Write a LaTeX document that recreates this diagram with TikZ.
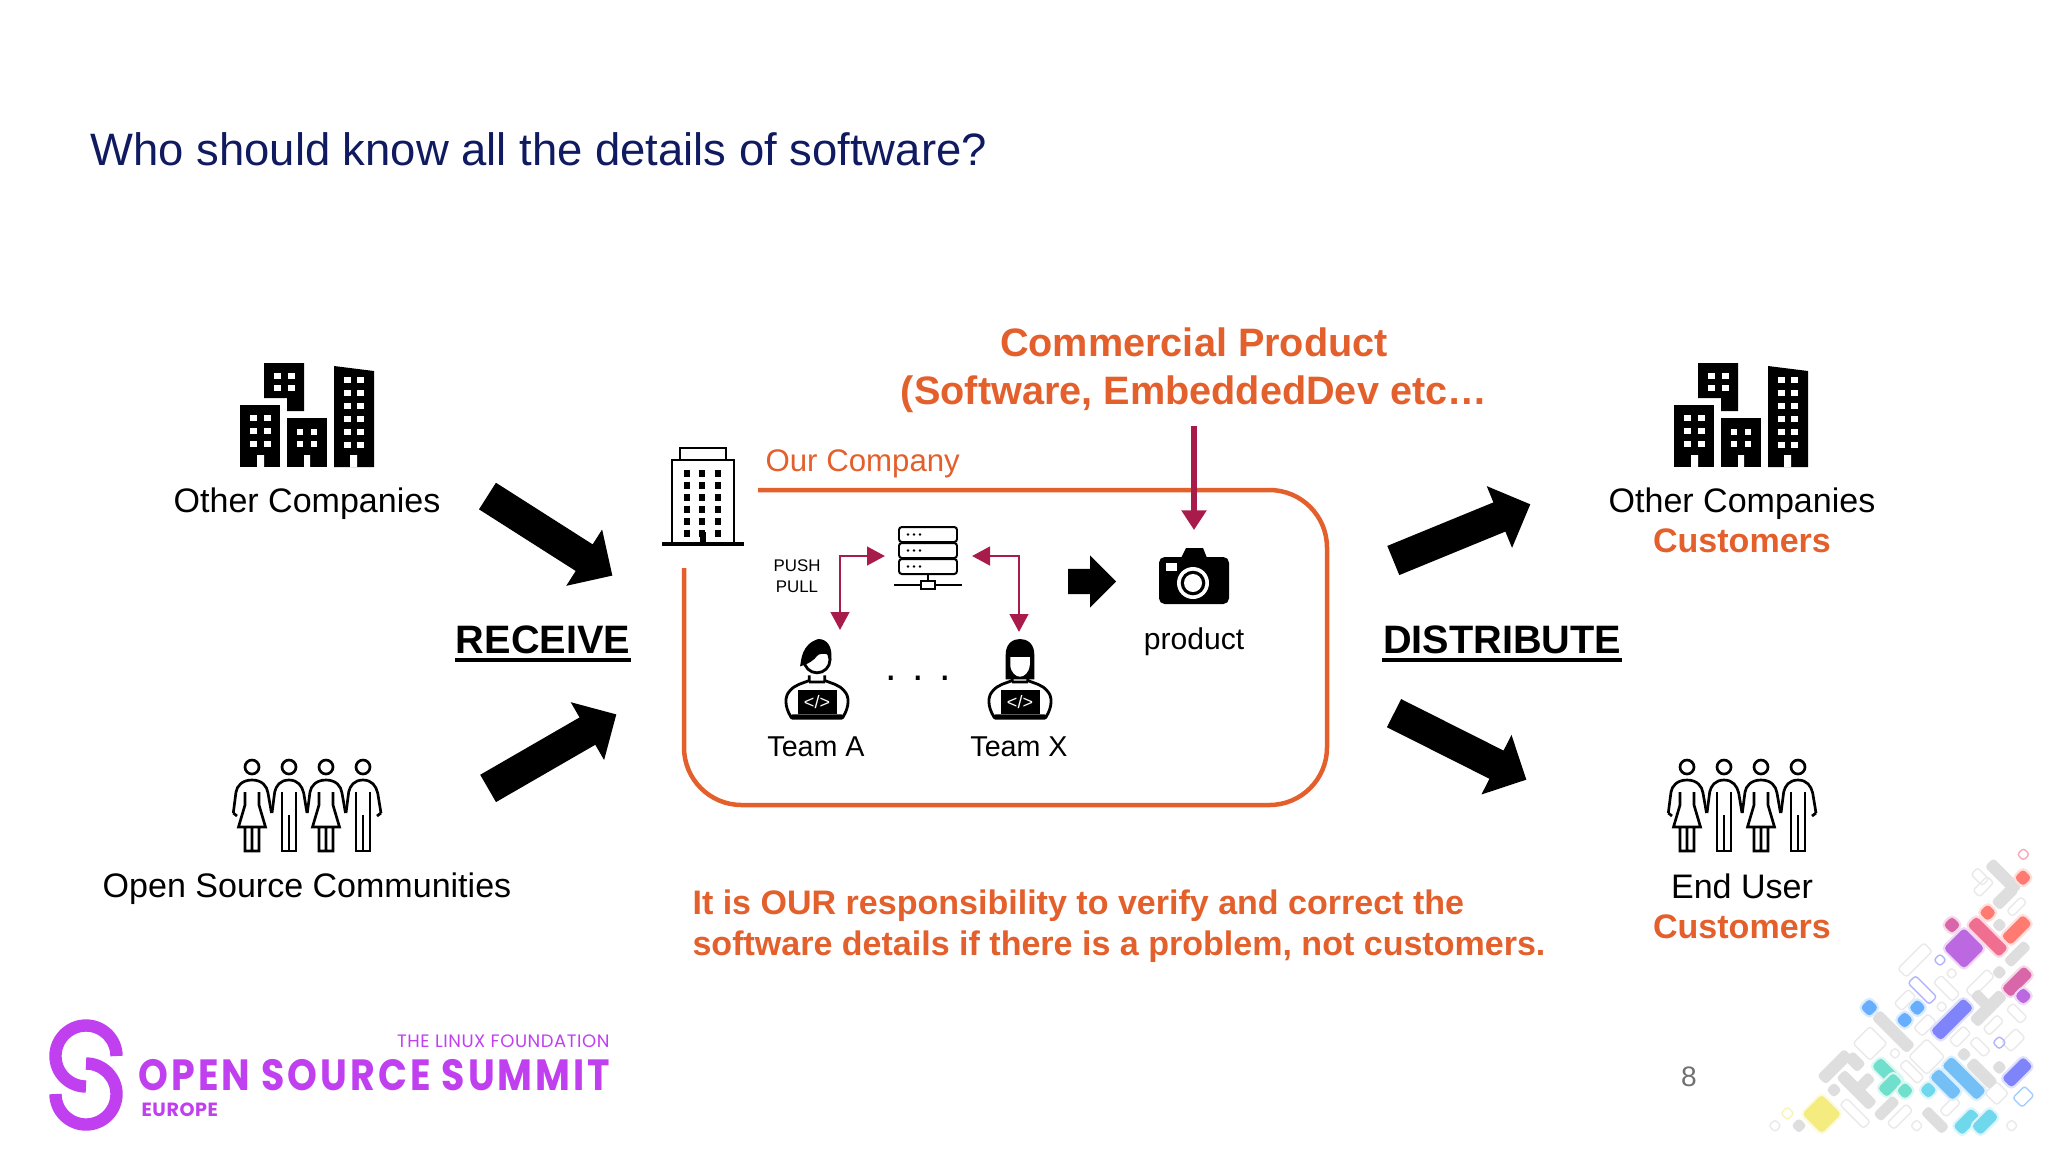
\documentclass[tikz,border=0pt]{standalone}
\usepackage{fontspec}
\setmainfont{Liberation Sans}
\newfontfamily\logofont[LetterSpace=3]{Poppins}
\newfontfamily\summitfont[LetterSpace=8]{Poppins}
\usetikzlibrary{arrows.meta,shapes.arrows}
\definecolor{titleblue}{HTML}{101A60}
\definecolor{ourorange}{HTML}{E35F2B}
\definecolor{linkred}{HTML}{A81C4C}
\definecolor{logopurple}{HTML}{C040F0}
\definecolor{pagegray}{HTML}{707070}
\definecolor{tilecoral}{HTML}{FF7B72}
\definecolor{tilepink}{HTML}{F06E90}
\definecolor{tilemag}{HTML}{D866A8}
\definecolor{tilepurple}{HTML}{BC68E0}
\definecolor{tileviolet}{HTML}{8084FA}
\definecolor{tileblue}{HTML}{68AEFF}
\definecolor{tilesky}{HTML}{74C0F6}
\definecolor{tilemint}{HTML}{70E0CC}
\definecolor{tilecyan}{HTML}{70D8EC}
\definecolor{tileyellow}{HTML}{F5EC80}
\definecolor{tilegray}{HTML}{DEDEDE}
\definecolor{tileline}{HTML}{E9E9E9}
\tikzset{
  plainword/.style={inner sep=0pt,align=center,font=\fontsize{12.1pt}{14.6pt}\selectfont},
  orangeword/.style={plainword,text=ourorange,font=\fontsize{12.1pt}{14.6pt}\selectfont\bfseries},
  teamword/.style={plainword,font=\fontsize{10.2pt}{12pt}\selectfont},
  bigword/.style={plainword,font=\fontsize{14.1pt}{17pt}\selectfont\bfseries},
  bigarrow/.style={single arrow,fill=black,inner sep=0pt,anchor=tip,text height=0.19cm,text depth=0.19cm,
    minimum width=0.825cm,single arrow head extend=0.22cm,minimum height=1.85cm},
  linkarrow/.style={draw=linkred,line width=1pt,
    {Triangle[width=6.6pt,length=6.4pt]}-{Triangle[width=6.6pt,length=6.4pt]}},
  buildings/.pic={
    \fill (24,0) -- (64,0) -- (64,48) -- (47,48) -- (47,35) -- (24,35) -- cycle;
    \fill (0,42) rectangle (40,104);
    \fill (47,55) rectangle (87,104);
    \fill (94,3) -- (134,8) -- (134,104) -- (94,104) -- cycle;
    \fill[white] (17,92) rectangle (24,104) (64,92) rectangle (70,104) (110,92) rectangle (117,104);
    \foreach \wx in {34,48} \foreach \wy in {10,22}
      \fill[white] (\wx,\wy) rectangle ++(7,6);
    \foreach \wx in {10,24} \foreach \wy in {52,65,78}
      \fill[white] (\wx,\wy) rectangle ++(7,6);
    \foreach \wx in {57,71} \foreach \wy in {66,78}
      \fill[white] (\wx,\wy) rectangle ++(6,6);
    \foreach \wx in {104,117} \foreach \wy in {14,27,40,53,66,79}
      \fill[white] (\wx,\wy) rectangle ++(7,6);
  },
  womanfig/.pic={
    \draw[line width=0.95pt] (0,8) circle (7);
    \draw[line width=0.95pt,line join=round]
      (-18.7,54) -- (-16,33) .. controls (-15,27) and (-10,21) .. (0,21)
      .. controls (10,21) and (15,27) .. (16,34) -- (19.5,54);
    \draw[line width=0.95pt,line join=miter]
      (-7,33) -- (-7,46) -- (-13.5,68) -- (13.5,68) -- (7,46) -- (7,33)
      (-7,68) -- (-7,92) -- (7,92) -- (7,68) (0,68) -- (0,92);
  },
  manfig/.pic={
    \draw[line width=0.95pt] (0,8) circle (7);
    \draw[line width=0.95pt,line join=round]
      (-17,54) -- (-14.3,33) .. controls (-13,27) and (-9,21) .. (0,21)
      .. controls (9,21) and (13,27) .. (14.7,34) -- (18,54);
    \draw[line width=0.95pt,line join=miter]
      (-7,33) -- (-7,92) -- (7,92) -- (7,33) (0,56) -- (0,92);
  },
  people/.pic={
    \pic at (19,0) {womanfig};
    \pic at (56,0) {manfig};
    \pic at (93,0) {womanfig};
    \pic at (130,0) {manfig};
    \draw[line width=0.95pt] (0.3,54) -- (4,57) (148,54) -- (144,57);
  },
  coderbody/.pic={
    \draw[line width=1pt,line join=round]
      (-20,60) .. controls (-25,52) and (-25,44) .. (-21,40)
      .. controls (-17,35) and (-11,34) .. (-6,32) -- (-6,28)
      (20,60) .. controls (25,52) and (25,44) .. (21,40)
      .. controls (17,35) and (11,34) .. (6,32) -- (6,28)
      (-6,33) -- (6,33);
    \fill (-15,39) rectangle (15,58);
    \fill[rounded corners=1pt] (-21,58) rectangle (21,62);
    \node[text=white,inner sep=0pt,font=\fontsize{6.4pt}{7pt}\selectfont] (code) at (0,48.5) {</>};
  },
  coderman/.pic={
    \pic {coderbody};
    \draw[line width=1pt,fill=white] (0,16) circle (10);
    \fill (-13,21) .. controls (-12,16) and (-12,4) .. (1,0) .. controls (8,0) and (12,6) .. (11,16)
      -- (9,12) .. controls (5,11) and (2,11) .. (0,13) .. controls (-2,16) and (-6,19) .. (-13,21) -- cycle;
  },
  coderwoman/.pic={
    \pic {coderbody};
    \fill (-11,31) -- (-11,12) .. controls (-11,3) and (-5,0) .. (0,0)
      .. controls (5,0) and (11,3) .. (11,12) -- (11,31) -- cycle;
    \fill[white] (-7.5,14) -- (7.5,14) -- (7.5,20) .. controls (7,26) and (3,29) .. (0,29)
      .. controls (-3,29) and (-7,26) .. (-7.5,20) -- cycle;
  },
  server/.pic={
    \foreach \ry in {0,16,32}{
      \draw[line width=0.7pt,rounded corners=1pt] (-29,\ry) rectangle (29,\ry+15);
      \foreach \rx in {-20,-14,-8}
        \fill (\rx,\ry+7.5) circle (1.3);
    }
    \draw[line width=0.7pt] (0,47) -- (0,54) (-34,58) -- (34,58);
    \draw[line width=0.7pt,fill=white] (-7,54) rectangle (7,62);
  },
  camera/.pic={
    \fill[rounded corners=2pt] (0,9) rectangle (70,56);
    \fill (22,10) -- (27,0) -- (44,0) -- (48,10) -- cycle;
    \fill[white] (7,15) rectangle (18,23);
    \fill[white] (34,35) circle (16);
    \fill (34,35) circle (12.3);
    \fill[white] (34,35) circle (9);
  },
  tower/.pic={
    \draw[line width=1pt] (18,12) -- (18,0) -- (64,0) -- (64,12);
    \draw[line width=1pt] (10,96) -- (10,12) -- (72,12) -- (72,96);
    \draw[line width=1.3pt] (0,96) -- (82,96);
    \foreach \wx in {22,37,53} \foreach \wy in {22,34,46,58,70,82}
      \fill (\wx,\wy) rectangle ++(6,7);
    \fill (38,84) rectangle (44,96);
  },
}
\begin{document}
\begin{tikzpicture}[x=0.0125cm,y=-0.0125cm]
\useasboundingbox (0,0) rectangle (2048,1152);
\node[anchor=west,inner sep=0pt,text=titleblue,font=\fontsize{16.15pt}{19pt}\selectfont] (title) at (90,149) {Who should know all the details of software?};

\pic at (240,363) {buildings};
\node[plainword] (othera) at (307,504) {Other Companies};
\pic at (233,759) {people};
\node[plainword] (opensource) at (307,889) {Open Source Communities};
\node[bigarrow,rotate=-32.5] (arrowa) at (613,576) {};
\node[bigarrow,rotate=30] (arrowb) at (617,714) {};
\node[bigword] (receive) at (543,640) {RECEIVE};
\draw[line width=1.4pt] ([yshift=-2pt]receive.south west) -- ([yshift=-2pt]receive.south east);

\pic at (662,448) {tower};
\node[anchor=west,inner sep=0pt,text=ourorange,font=\fontsize{11.1pt}{14pt}\selectfont] (ourcompany) at (765,464) {Our Company};
\draw[ourorange,line width=1.6pt,rounded corners=0.72cm] (758,490) -- (1327,490) -- (1327,805) -- (684,805) -- (684,568);

\node[orangeword,font=\fontsize{14.1pt}{17pt}\selectfont\bfseries] (commercial) at (1194,370) {Commercial Product\\(Software, EmbeddedDev etc…};
\coordinate (camtop) at (1194,530);
\draw[draw=linkred,line width=2.3pt,-{Triangle[width=8.6pt,length=7pt]}] (commercial.south |- 0,426) -- (camtop);

\pic at (928,527) {server};
\node[plainword,font=\fontsize{6pt}{7.4pt}\selectfont] (pushpull) at (797,576) {PUSH\\PULL};
\coordinate (servleft) at (885,556);
\coordinate (servright) at (972,556);
\coordinate (teamatop) at (840,630);
\coordinate (teamxtop) at (1019,632);
\draw[linkarrow] (servleft) -| (teamatop);
\draw[linkarrow] (servright) -| (teamxtop);

\node[single arrow,fill=black,inner sep=0pt,anchor=tip,text height=0.15cm,text depth=0.15cm,minimum width=0.64cm,single arrow head extend=0.17cm,minimum height=0.6cm] (flow) at (1117,581.5) {};
\pic at (1159,548) {camera};
\node[teamword,font=\fontsize{10.7pt}{13pt}\selectfont] (product) at (1194,642) {product};

\begin{scope}[shift={(817,639)},x=0.01625cm,y=-0.01625cm]
\pic {coderman};
\end{scope}
\begin{scope}[shift={(1020,639)},x=0.01625cm,y=-0.01625cm]
\pic {coderwoman};
\end{scope}
\node[teamword] (teama) at (816,747) {Team A};
\node[teamword] (teamx) at (1019,747) {Team X};
\node[plainword,font=\fontsize{14.7pt}{16pt}\selectfont] (dots) at (918,678) {. . .};

\node[bigarrow,rotate=22.3] (arrowc) at (1531,504) {};
\node[bigarrow,rotate=-26.7] (arrowd) at (1527,780) {};
\node[bigword] (distribute) at (1502,640) {DISTRIBUTE};
\draw[line width=1.4pt] ([yshift=-2pt]distribute.south west) -- ([yshift=-2pt]distribute.south east);

\pic at (1674,363) {buildings};
\node[plainword] (otherb) at (1742,504) {Other Companies};
\node[orangeword] (customera) at (1742,541) {Customers};
\pic at (1668,759) {people};
\node[plainword] (enduser) at (1742,886) {End User};
\node[orangeword] (customerb) at (1742,927) {Customers};

\node[orangeword,anchor=north west,align=left] (ourduty) at (692,889) {It is OUR responsibility to verify and correct the\\software details if there is a problem, not customers.};

\draw[logopurple,line width=4.4pt] (116.5,1056) arc[start angle=0,end angle=-270,radius=30.5];
\draw[logopurple,line width=4.4pt] (86,1063.5) arc[start angle=-90,end angle=180,radius=30.5];
\node[anchor=east,inner sep=0pt,yscale=1.15,transform shape,text=logopurple,font=\summitfont\fontsize{13.5pt}{16pt}\selectfont\bfseries] (summit) at (611,1075) {OPEN SOURCE SUMMIT};
\node[anchor=east,inner sep=0pt,text=logopurple,font=\logofont\fontsize{6.4pt}{8pt}\selectfont] (linuxf) at (610,1041) {THE LINUX FOUNDATION};
\node[anchor=west,inner sep=0pt,text=logopurple,font=\logofont\fontsize{6.8pt}{8pt}\selectfont\bfseries] (europe) at (141,1110) {EUROPE};
\node[inner sep=0pt,text=pagegray,font=\fontsize{10pt}{12pt}\selectfont] (pagenum) at (1689,1077) {8};

\begin{scope}[shift={(1740,840)},x=0.004167cm,y=-0.004167cm]
\foreach \tx/\ty/\ta/\tb in {390/610/36/36,560/650/38/38,525/360/55/18,620/445/16/40,635/400/12/12,605/500/12/12,495/480/30/16,555/555/30/18,465/640/12/12,515/695/14/38,660/590/30/16,720/430/45/16,760/555/30/14,830/520/14/30,820/600/30/20,720/620/14/30,770/760/25/25,630/800/30/14,480/830/40/14,730/140/30/14,720/110/14/24,830/200/30/12,530/857/13/13,815/857/13/13,105/857/13/13,345/820/14/50}
  \draw[tileline,line width=0.5pt,rounded corners=1pt,shift={(\tx,\ty)},rotate=45] (-\ta,-\tb) rectangle (\ta,\tb);
\foreach \tx/\ty/\ta/\tb/\tc in {600/360/13/13/tileviolet,547/450/16/45/tileviolet,778/608/14/14/tileviolet,850/43/13/13/tilepink,142/820/14/14/tileyellow,850/770/25/20/tileblue}
  \draw[\tc!60,line width=0.5pt,rounded corners=1pt,shift={(\tx,\ty)},rotate=45] (-\ta,-\tb) rectangle (\ta,\tb);
\foreach \tx/\ty/\ta/\tb in {790/110/16/58,795/170/38/16,832/342/40/14,778/255/14/14,778/397/14/14,745/505/60/16,725/480/14/30,460/575/16/72,672/643/14/14,725/700/16/48,778/682/14/14,285/680/55/16,345/665/16/25,282/750/14/14,350/750/16/66,372/730/30/14,440/805/38/14,585/840/14/42,177/857/14/14}
  \filldraw[tilegray,line width=0.6pt,rounded corners=1pt,shift={(\tx,\ty)},rotate=45] (-\ta,-\tb) rectangle (\ta,\tb);
\foreach \tx/\ty/\ta/\tb/\tc in {849/113/15/15/tilecoral,743/218/15/15/tilecoral,743/290/16/64/tilepink,830/270/42/16/tilecoral,636/255/15/15/tilemag,672/325/40/40/tilepurple,832/425/44/16/tilemag,850/468/15/15/tilepurple,636/538/66/18/tileviolet,388/503/16/16/tileblue,532/503/15/15/tileblue,494/540/15/15/tileblue,832/697/42/17/tileviolet,443/700/16/45/tilemint,450/735/30/16/tilemint,495/752/15/15/tilemint,565/750/15/15/tilecyan,617/733/16/45/tilesky,672/715/17/70/tilesky,680/845/35/16/tilecyan,735/845/35/16/tilecyan,245/822/38/38/tileyellow}{
  \draw[\tc!25,line width=2.4pt,rounded corners=1pt,shift={(\tx,\ty)},rotate=45] (-\ta,-\tb) rectangle (\ta,\tb);
  \filldraw[\tc,line width=0.8pt,rounded corners=1pt,shift={(\tx,\ty)},rotate=45] (-\ta,-\tb) rectangle (\ta,\tb);
}
\end{scope}
\end{tikzpicture}
\end{document}
